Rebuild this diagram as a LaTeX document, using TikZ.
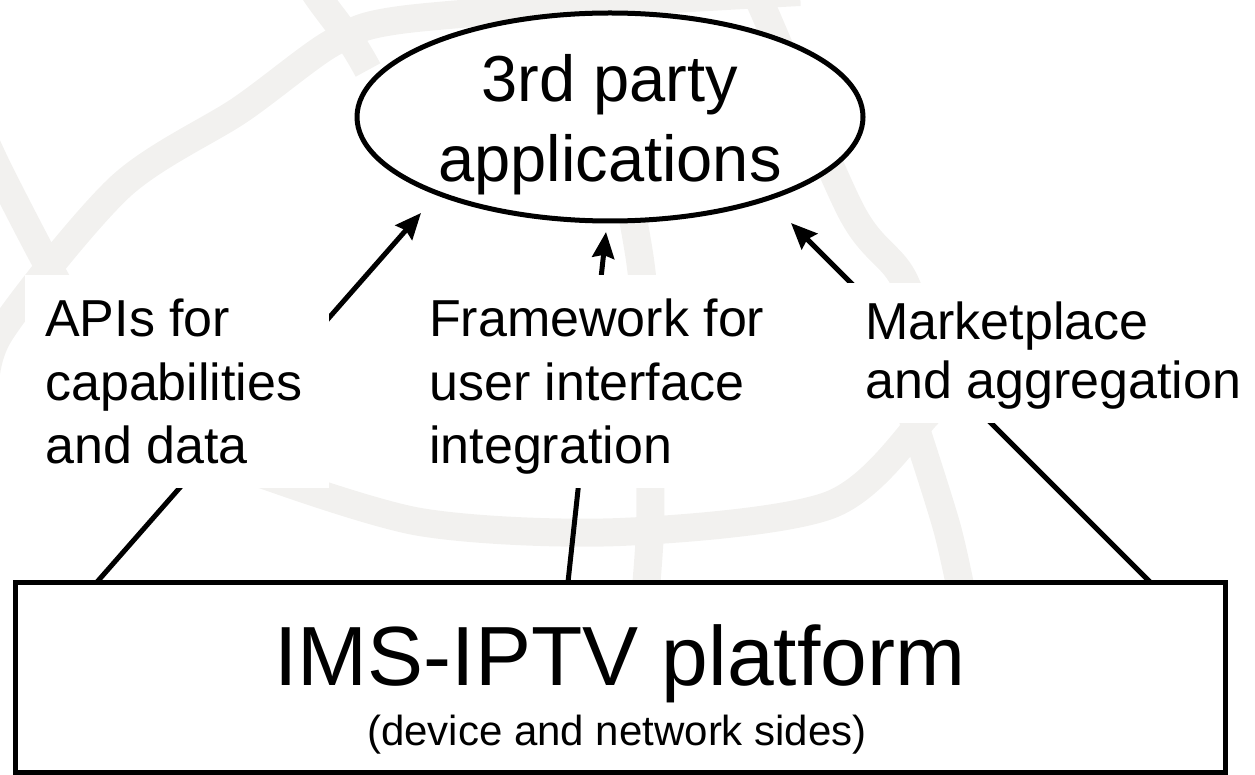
\documentclass[tikz,border=0pt]{standalone}
\usepackage{fontspec}
\setmainfont{Liberation Sans}
\usetikzlibrary{shapes.geometric,arrows.meta}
\definecolor{globe}{RGB}{242,241,239}
\begin{document}
\begin{tikzpicture}[x=1pt,y=-1pt,
  band/.style={globe,line width=28pt},
  conn/.style={line width=5pt,-{Stealth[length=26pt,width=22pt,inset=3pt]}},
  mask/.style={fill=white,inner sep=0pt},
  lbl/.style={anchor=base west,inner sep=0pt,font=\fontsize{52pt}{63pt}\selectfont},
  apptxt/.style={anchor=base,inner sep=0pt,font=\fontsize{65pt}{80pt}\selectfont},
]
\useasboundingbox (0,0) rectangle (1255,775);
% faint background globe
\draw[band] plot[smooth] coordinates {(-15,400) (0,333) (120,187) (240,110) (332,43) (400,20) (627,2) (800,-8)};
\draw[band] plot[smooth] coordinates {(-20,130) (0,173) (45,260) (90,340)};
\draw[band] plot[smooth] coordinates {(300,-30) (320,0) (352,43) (368,70)};
\draw[band] plot[smooth] coordinates {(735,-40) (759,0) (851,211) (903,278) (940,380)};
\draw[band] plot[smooth] coordinates {(900,380) (915,426) (947,528) (963,600)};
\draw[band] plot[smooth] coordinates {(250,470) (420,522) (620,532) (830,505) (927,415) (975,350)};
\draw[band] plot[smooth] coordinates {(620,150) (640,260) (648,350) (650,450) (650,530) (645,600)};
% main nodes
\node[draw,ellipse,fill=white,line width=5pt,inner sep=0pt,minimum width=506pt,minimum height=208pt] (app) at (610,117) {};
\node[apptxt] (app1) at (610,102) {3rd party};
\node[apptxt] (app2) at (610,182) {applications};
\node[draw,rectangle,fill=white,line width=5pt,inner sep=0pt,minimum width=1210pt,minimum height=190pt] (plat) at (620,677) {};
\node[anchor=base,inner sep=0pt,font=\fontsize{84pt}{90pt}\selectfont] (platname) at (620,685) {IMS-IPTV platform};
\node[anchor=base,inner sep=0pt,font=\fontsize{42pt}{48pt}\selectfont] (platsub) at (617,745) {(device and network sides)};
% connector ends
\coordinate (s1) at (97,582);
\coordinate (s2) at (568,582);
\coordinate (s3) at (1150,582);
\coordinate (t1) at (421,213);
\coordinate (t2) at (606,232);
\coordinate (t3) at (791,223);
\draw[conn] (s1) -- (t1);
\draw[conn] (s2) -- (t2);
\draw[conn] (s3) -- (t3);
% label areas (white, hiding the connectors behind the text)
\node[mask,minimum width=304pt,minimum height=213pt] (apis) at (177,381.5) {};
\node[mask,minimum width=377pt,minimum height=213pt] (frame) at (601.5,381.5) {};
\node[mask,minimum width=430pt,minimum height=140pt] (market) at (1055,353) {};
% label texts
\node[lbl] (apis1) at (45,337) {APIs for};
\node[lbl] (apis2) at (45,400) {capabilities};
\node[lbl] (apis3) at (45,463) {and data};
\node[lbl] (frame1) at (429,337) {Framework for};
\node[lbl] (frame2) at (429,400) {user interface};
\node[lbl] (frame3) at (429,463) {integration};
\node[lbl] (market1) at (865,340) {Marketplace};
\node[lbl] (market2) at (865,398) {and aggregation};
\end{tikzpicture}
\end{document}
